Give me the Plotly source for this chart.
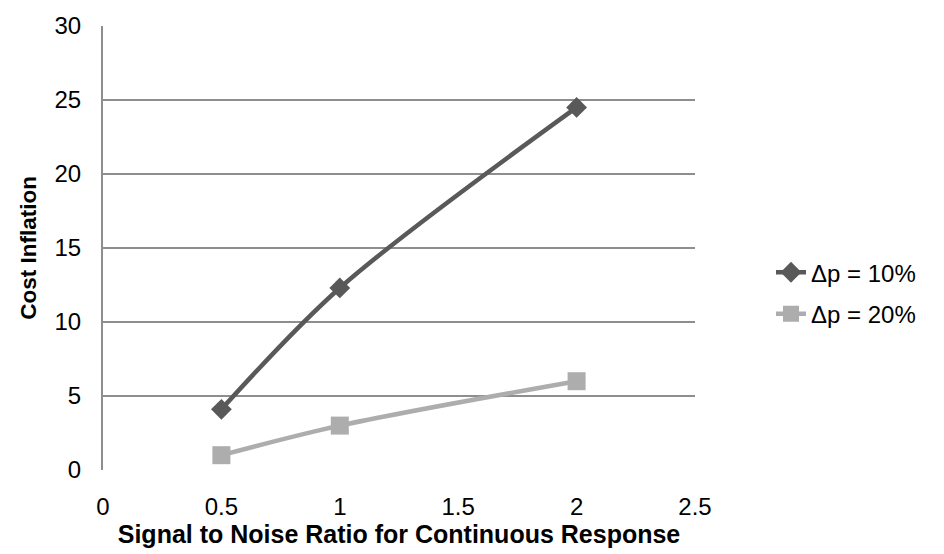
import plotly.graph_objects as go

snr = [0.5, 1, 2]
cost_10 = [4.1, 12.3, 24.5]
cost_20 = [1.0, 3.0, 6.0]
series_names = ["Δp = 10%", "Δp = 20%"]
x_ticks = [0, 0.5, 1, 1.5, 2, 2.5]
x_tick_text = ["0", "0.5", "1", "1.5", "2", "2.5"]
y_ticks = [0, 5, 10, 15, 20, 25, 30]

FONT = "Liberation Sans, Arial, sans-serif"
dark = "#595959"
light = "#adadad"
grid = "#8e8e8e"
FS = 24

fig = go.Figure()
fig.add_trace(go.Scatter(
    x=snr, y=cost_10, name=series_names[0], mode="lines+markers",
    line=dict(color=dark, width=4.5, shape="spline", smoothing=0.9),
    marker=dict(symbol="diamond", size=16, color=dark),
    legend="legend", showlegend=True,
))
fig.add_trace(go.Scatter(
    x=snr, y=cost_20, name=series_names[1], mode="lines+markers",
    line=dict(color=light, width=4.5, shape="spline", smoothing=0.9),
    marker=dict(symbol="square", size=18, color=light),
    legend="legend2", showlegend=True,
))

legend_common = dict(
    font=dict(family=FONT, size=FS, color="#000000"),
    bgcolor="rgba(0,0,0,0)", xanchor="left", yanchor="middle",
    itemwidth=30, visible=True,
)

fig.update_layout(
    width=944, height=554,
    margin=dict(l=103, r=249, t=20, b=84),
    paper_bgcolor="white", plot_bgcolor="white",
    showlegend=True,
    font=dict(family=FONT, size=FS, color="#000000"),
    legend=dict(x=(771 - 103) / 592, y=(470 - 270) / 450, **legend_common),
    legend2=dict(x=(771 - 103) / 592, y=(470 - 312) / 450, **legend_common),
    xaxis=dict(
        range=[0, 2.5], tickvals=x_ticks, ticktext=x_tick_text,
        showgrid=False, zeroline=False, showline=False,
        ticks="", ticklen=0, ticklabelstandoff=20,
        tickfont=dict(family=FONT, size=FS, color="#000000"),
        title=dict(text="<b>Signal to Noise Ratio for Continuous Response</b>",
                   font=dict(family=FONT, size=25, color="#000000"), standoff=0),
    ),
    yaxis=dict(
        range=[0, 30], tickvals=y_ticks,
        showgrid=True, gridcolor=grid, gridwidth=2,
        zeroline=False, showline=True, linecolor=grid, linewidth=2,
        ticks="", ticklabelstandoff=15,
        tickfont=dict(family=FONT, size=FS, color="#000000"),
        title=dict(text="<b>Cost Inflation</b>",
                   font=dict(family=FONT, size=22.5, color="#000000"), standoff=12),
    ),
)

fig.write_html("out.html")
